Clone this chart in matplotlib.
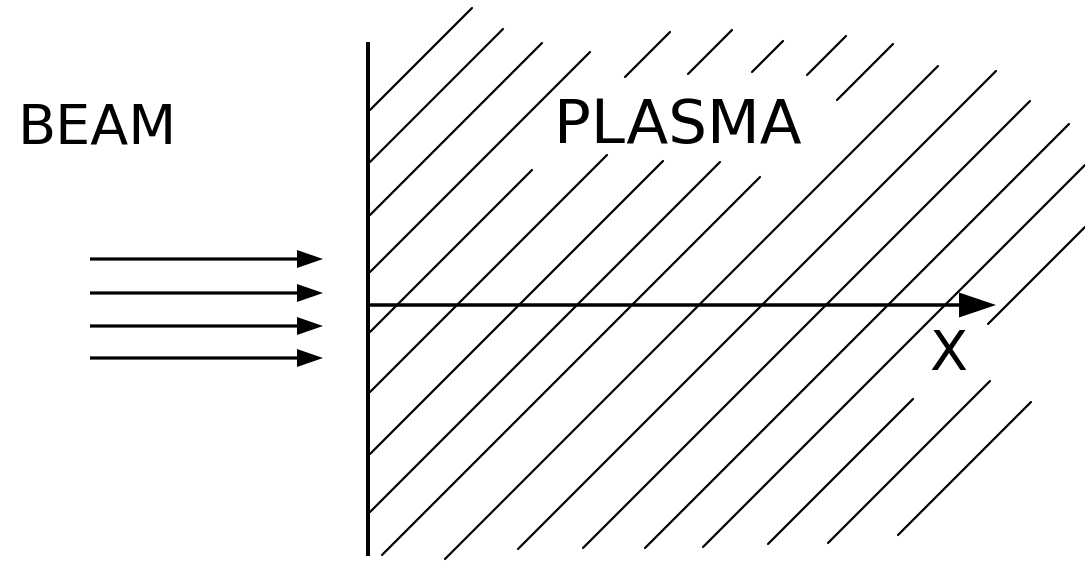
import matplotlib
matplotlib.use("Agg")
import matplotlib.pyplot as plt

# ---- diagram data (pixel-space coordinates of the original schematic) ----
# beam arrows: y positions, start and tip x
beam_y = [259, 293, 326, 358]
beam_x0 = 90
beam_x1 = 323

# plasma boundary (vertical wall)
wall_x = 368
wall_y = [42, 556]

# x-axis arrow
axis_y = 305
axis_x = [368, 996]

# hatch lines: each line satisfies x + y = c ; segments given as x-ranges
hatch_c = [480, 532, 585, 642, 702, 762, 824, 882, 937,
           1004, 1067, 1131, 1193, 1250, 1312, 1371, 1433]
hatch_segments = [
    [(370, 472)],
    [(370, 503)],
    [(370, 542)],
    [(370, 590)],
    [(370, 532), (625, 670)],
    [(370, 607), (688, 732)],
    [(370, 663), (752, 783)],
    [(370, 720), (807, 846)],
    [(382, 760), (837, 893)],
    [(445, 938)],
    [(518, 996)],
    [(583, 1030)],
    [(645, 1069)],
    [(703, 1085)],
    [(768, 913), (988, 1085)],
    [(828, 990)],
    [(898, 1031)],
]

labels = {"beam": "BEAM", "plasma": "PLASMA", "x": "X"}

W, H = 1085, 561
fig = plt.figure(figsize=(W / 100, H / 100), dpi=100)
ax = fig.add_axes([0, 0, 1, 1])
ax.set_xlim(0, W)
ax.set_ylim(H, 0)
ax.axis("off")

PX = 0.72  # points per pixel at 100 dpi

# hatch
for c, segs in zip(hatch_c, hatch_segments):
    for xa, xb in segs:
        ax.plot([xa, xb], [c - xa, c - xb], color="black", lw=2.2 * PX,
                solid_capstyle="round")

# wall
ax.plot([wall_x, wall_x], wall_y, color="black", lw=4 * PX, solid_capstyle="butt")

# axis arrow
ax.arrow(axis_x[0], axis_y, axis_x[1] - axis_x[0], 0, width=3.5,
         head_width=25, head_length=37, length_includes_head=True,
         color="black", lw=0)

# beam arrows
for y in beam_y:
    ax.arrow(beam_x0, y, beam_x1 - beam_x0, 0, width=3.2,
             head_width=18, head_length=26, length_includes_head=True,
             color="black", lw=0)

# text
ax.text(97, 143, labels["beam"], fontsize=40, family="DejaVu Sans",
        ha="center", va="baseline", color="black")
ax.text(678, 143, labels["plasma"], fontsize=44, family="DejaVu Sans",
        ha="center", va="baseline", color="black")
ax.text(948, 370, labels["x"], fontsize=40, family="DejaVu Sans",
        ha="center", va="baseline", color="black")

fig.savefig("out.png", dpi=100, facecolor="white")
